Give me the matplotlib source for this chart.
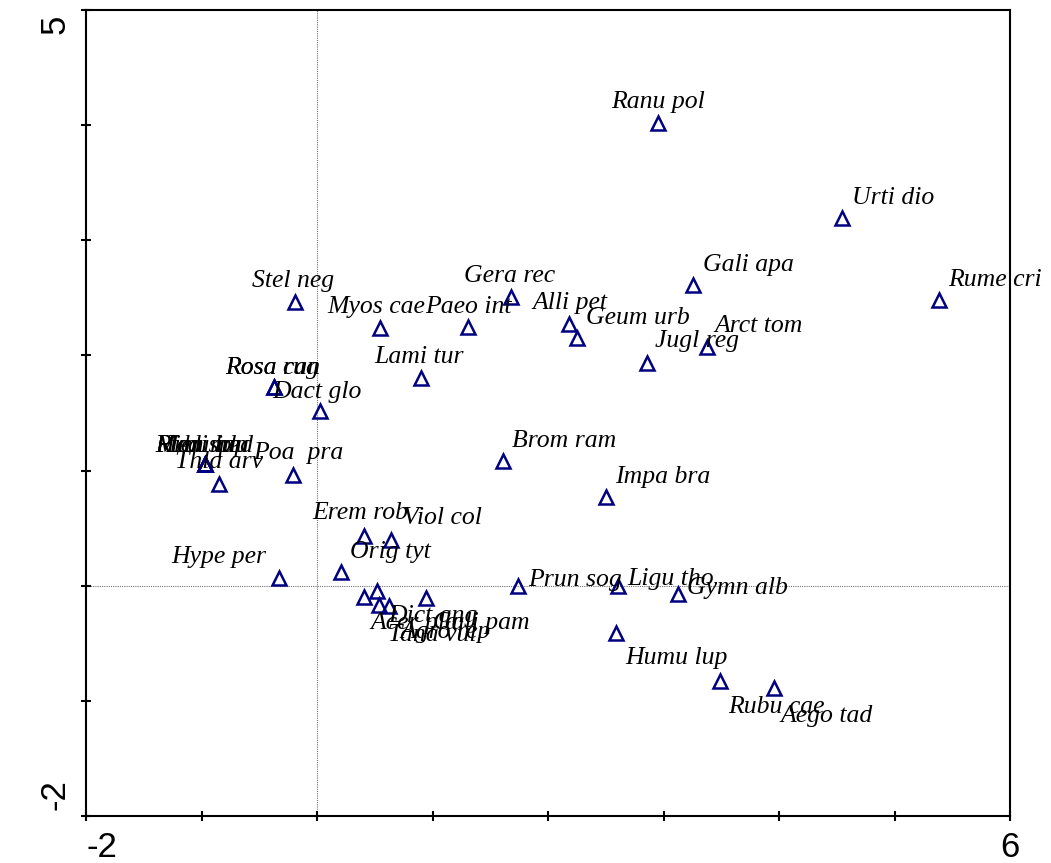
import matplotlib
matplotlib.use("Agg")
import matplotlib.pyplot as plt
import matplotlib.transforms as mtransforms

# species scores (axis 1, axis 2)
species = ["Ranu pol", "Urti dio", "Gali apa", "Rume cri", "Gera rec", "Stel neg", "Alli pet",
           "Myos cae", "Paeo int", "Geum urb", "Arct tom", "Jugl reg", "Lami tur",
           "Rosa can", "Rosa rug", "Dact glo",
           "Medi lup", "Rubu idu", "Hier sp", "Plan med",
           "Thla arv", "Poa  pra", "Brom ram", "Impa bra", "Erem rob", "Viol col", "Orig tyt",
           "Hype per", "Prun sog", "Ligu tho", "Gymn alb", "Humu lup", "Rubu cae", "Aego tad",
           "Acer pla", "Dict ang", "Tana vul", "Agro rep", "Gali pam"]
ax1 = [2.95, 4.54, 3.25, 5.38, 1.68, -0.19, 2.18,
       0.54, 1.30, 2.25, 3.37, 2.85, 0.90,
       -0.38, -0.38, 0.02,
       -0.97, -0.97, -0.97, -0.97,
       -0.85, -0.21, 1.61, 2.50, 0.40, 0.64, 0.20,
       -0.33, 1.74, 2.60, 3.12, 2.59, 3.49, 3.95,
       0.40, 0.52, 0.53, 0.62, 0.94]
ax2 = [4.02, 3.19, 2.61, 2.48, 2.51, 2.46, 2.27,
       2.24, 2.25, 2.15, 2.07, 1.93, 1.80,
       1.73, 1.73, 1.52,
       1.06, 1.06, 1.06, 1.06,
       0.88, 0.96, 1.08, 0.77, 0.43, 0.40, 0.12,
       0.07, 0.00, 0.00, -0.07, -0.41, -0.83, -0.89,
       -0.10, -0.05, -0.17, -0.18, -0.11]

# label placement (pixels from the marker: left edge of text, vertical centre; +y is down)
lab_off = [(-47, -21), (10, -20), (10, -20), (10, -20), (-47, -21), (-43, -21), (-37, -21),
           (-52, -21), (-42, -20), (9, -20), (8, -21), (8, -22), (-47, -21),
           (-48, -19), (-48, -19), (-47, -19),
           (-50, -18), (-50, -18), (-50, -18), (-50, -18),
           (-44, -22), (-40, -22), (9, -20), (9, -20), (-51, -23), (12, -22), (9, -20),
           (-108, -21), (10, -6), (10, -7), (9, -6), (9, 25), (8, 26), (7, 28),
           (7, 26), (11, 25), (9, 30), (11, 26), (7, 25)]

xlim = (-2, 6)
ylim = (-2, 5)

fig = plt.figure(figsize=(10.51, 8.63), dpi=100)
ax = fig.add_axes([0.0823, 0.0545, 0.8789, 0.9339])
ax.set_xlim(*xlim); ax.set_ylim(*ylim)

ax.axhline(0, color="0.45", lw=0.8, ls=(0, (1, 1)), zorder=1)
ax.axvline(0, color="0.45", lw=0.8, ls=(0, (1, 1)), zorder=1)

ax.plot(ax1, ax2, ls="none", marker="^", ms=10, mfc="none", mec="#000080", mew=1.8, zorder=3)
for name, x, y, (dx, dy) in zip(species, ax1, ax2, lab_off):
    ax.annotate(name, (x, y), xytext=(dx, -dy), textcoords="offset pixels", ha="left", va="center",
                fontsize=18.5, family="Liberation Serif", style="italic", annotation_clip=False,
                zorder=4)

for s in ax.spines.values():
    s.set_linewidth(1.5)

ax.set_xticks(range(xlim[0], xlim[1] + 1))
ax.set_xticklabels([str(xlim[0])] + [""] * (xlim[1] - xlim[0] - 1) + [str(xlim[1])])
ax.set_yticks(range(ylim[0], ylim[1] + 1))
ax.set_yticklabels([str(ylim[0])] + [""] * (ylim[1] - ylim[0] - 1) + [str(ylim[1])], rotation=90)
ax.tick_params(direction="inout", length=7, width=1.5, labelsize=25, pad=7)
for t in ax.get_xticklabels() + ax.get_yticklabels():
    t.set_family("Liberation Sans")
ax.get_xticklabels()[0].set_ha("left")
ylabs = ax.get_yticklabels()
ylabs[0].set_va("bottom")
ylabs[-1].set_va("top")
# nudge the end labels inward a little, as in the original
ylabs[0].set_transform(ylabs[0].get_transform() + mtransforms.ScaledTranslation(0, 6 / 100, fig.dpi_scale_trans))
ylabs[-1].set_transform(ylabs[-1].get_transform() + mtransforms.ScaledTranslation(0, -5 / 100, fig.dpi_scale_trans))

fig.savefig("out.png", dpi=100)
